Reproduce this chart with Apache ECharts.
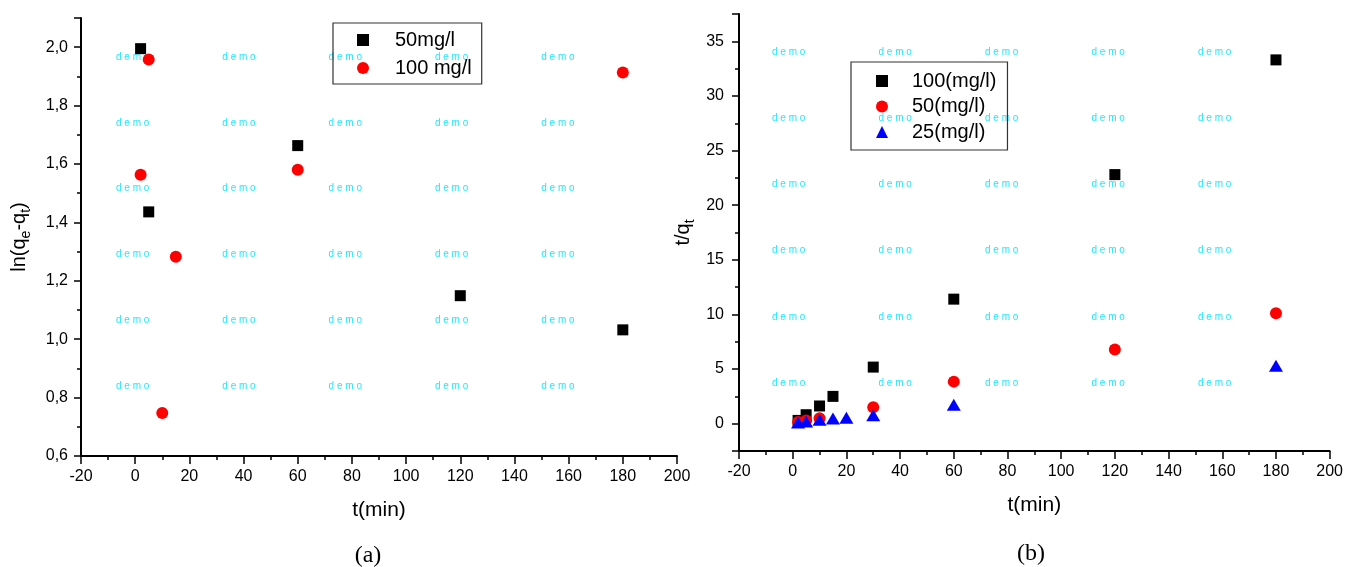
<!DOCTYPE html>
<html>
<head>
<meta charset="utf-8">
<script src="https://cdn.jsdelivr.net/npm/echarts@6/dist/echarts.min.js"></script>
<style>
  html, body { margin: 0; padding: 0; background: #fff; }
  #chart { width: 1346px; height: 567px; }
</style>
</head>
<body>
<div id="chart"></div>
<script>
// (a) pseudo first order: ln(qe - qt) vs t
const timeA50 = [2, 5, 60, 120, 180];
const lnA50 = [1.995, 1.436, 1.663, 1.149, 1.032];
const timeA100 = [2, 5, 10, 15, 60, 180];
const lnA100 = [1.563, 1.958, 0.747, 1.282, 1.58, 1.913];

// (b) pseudo second order: t/qt vs t
const timeB100 = [2, 5, 10, 15, 30, 60, 120, 180];
const tqB100 = [0.3, 0.82, 1.62, 2.5, 5.18, 11.4, 22.8, 33.3];
const timeB50 = [2, 5, 10, 30, 60, 120, 180];
const tqB50 = [0.15, 0.3, 0.5, 1.5, 3.85, 6.8, 10.1];
const timeB25 = [2, 5, 10, 15, 20, 30, 60, 180];
const tqB25 = [0.12, 0.2, 0.37, 0.48, 0.55, 0.78, 1.74, 5.3];

const namesA = ["50mg/l", "100 mg/l"];
const namesB = ["100(mg/l)", "50(mg/l)", "25(mg/l)"];
const panelLabels = ["(a)", "(b)"];

const FONT = "Liberation Sans, Arial, sans-serif";

function pairs(xs, ys) {
    return xs.map((x, i) => [x, ys[i]]);
}

function xAxisOf(gridIndex) {
    return {
        gridIndex: gridIndex,
        type: "value",
        min: -20, max: 200, interval: 20,
        name: "t(min)",
        nameLocation: "middle",
        nameGap: 44,
        nameTextStyle: { fontFamily: FONT, fontSize: 21, color: "#000" },
        axisLine: { onZero: false, lineStyle: { color: "#000", width: 2 } },
        axisTick: { inside: false, length: 8, lineStyle: { color: "#000", width: 1.5 } },
        minorTick: { show: true, splitNumber: 2, length: 4, lineStyle: { color: "#000", width: 1.5 } },
        axisLabel: { fontFamily: FONT, fontSize: 16, color: "#000", margin: 13 },
        splitLine: { show: false }
    };
}

// faint watermark grid
let graphics = [];
const wmA = { x0: 116, y0: 57, dx: 106.3, dy: 65.8 };
const wmB = { x0: 772, y0: 52, dx: 106.5, dy: 66.2 };
[wmA, wmB].forEach(w => {
    for (let r = 0; r < 6; r++) {
        for (let c = 0; c < 5; c++) {
            graphics.push({
                type: "text", x: w.x0 + c * w.dx, y: w.y0 + r * w.dy, z: 0, silent: true,
                style: { text: "d e m o", fill: "#22e8ff", font: "10px " + FONT, textVerticalAlign: "middle" }
            });
        }
    }
});
graphics.push({ type: "text", x: 368, y: 556, style: { text: panelLabels[0], fill: "#000", font: "24px Liberation Serif, Times New Roman, serif", textAlign: "center", textVerticalAlign: "middle" } });
graphics.push({ type: "text", x: 1031, y: 554, style: { text: panelLabels[1], fill: "#000", font: "24px Liberation Serif, Times New Roman, serif", textAlign: "center", textVerticalAlign: "middle" } });

const subRich = {
    a: { fontFamily: FONT, fontSize: 20, color: "#000", lineHeight: 28 },
    s: { fontFamily: FONT, fontSize: 14, color: "#000", lineHeight: 14, verticalAlign: "bottom" }
};

function yAxisBase(gridIndex) {
    return {
        gridIndex: gridIndex, type: "value",
        nameLocation: "middle", nameRotate: 90,
        nameTextStyle: { rich: subRich },
        axisLine: { show: true, onZero: false, lineStyle: { color: "#000", width: 2 } },
        axisTick: { show: true, inside: false, length: 7, lineStyle: { color: "#000", width: 1.5 } },
        minorTick: { show: true, splitNumber: 2, length: 4, lineStyle: { color: "#000", width: 1.5 } },
        splitLine: { show: false }
    };
}

let yA = yAxisBase(0);
yA.min = 0.6; yA.max = 2.1; yA.interval = 0.2;
yA.name = "{a|ln(q}{s|e}{a|-q}{s|t}{a|)}";
yA.nameGap = 48;
yA.axisLabel = {
    fontFamily: FONT, fontSize: 16, color: "#000", margin: 13,
    formatter: v => (Math.round(v * 10) % 2 === 0 ? v.toFixed(1).replace(".", ",") : "")
};

let yB = yAxisBase(1);
yB.min = -2.5; yB.max = 37.5; yB.splitNumber = 8;
yB.name = "{a|t/q}{s|t}";
yB.nameGap = 42;
yB.axisLabel = {
    fontFamily: FONT, fontSize: 16, color: "#000", margin: 15,
    formatter: v => (Math.abs(v % 5) < 1e-9 ? String(Math.round(v)) : "")
};

let option = {
    animation: false,
    backgroundColor: "#fff",
    grid: [
        { left: 81, right: 669, top: 18, bottom: 111 },
        { left: 739, right: 15, top: 14, bottom: 116 }
    ],
    xAxis: [xAxisOf(0), xAxisOf(1)],
    yAxis: [yA, yB],
    legend: [
        {
            data: namesA, orient: "vertical", left: 333, top: 23,
            itemWidth: 12, itemHeight: 12, itemGap: 6,
            padding: [6, 10, 5, 24],
            borderColor: "#333", borderWidth: 1.2,
            textStyle: { fontFamily: FONT, fontSize: 20, color: "#000", lineHeight: 22, padding: [0, 0, 0, 21] }
        },
        {
            data: namesB, orient: "vertical", left: 851, top: 62,
            itemWidth: 12, itemHeight: 12, itemGap: 3.5,
            padding: [8, 11, 7, 25],
            borderColor: "#333", borderWidth: 1.2,
            textStyle: { fontFamily: FONT, fontSize: 20, color: "#000", lineHeight: 22, padding: [0, 0, 0, 19] }
        }
    ],
    graphic: graphics,
    series: [
        { name: namesA[0], type: "scatter", xAxisIndex: 0, yAxisIndex: 0, symbol: "rect", symbolSize: 11,
          itemStyle: { color: "#000", opacity: 1 }, data: pairs(timeA50, lnA50) },
        { name: namesA[1], type: "scatter", xAxisIndex: 0, yAxisIndex: 0, symbol: "circle", symbolSize: 12,
          itemStyle: { color: "#ff0000", opacity: 1 }, data: pairs(timeA100, lnA100) },
        { name: namesB[0], type: "scatter", xAxisIndex: 1, yAxisIndex: 1, symbol: "rect", symbolSize: 11,
          itemStyle: { color: "#000", opacity: 1 }, data: pairs(timeB100, tqB100) },
        { name: namesB[1], type: "scatter", xAxisIndex: 1, yAxisIndex: 1, symbol: "circle", symbolSize: 12,
          itemStyle: { color: "#ff0000", opacity: 1 }, data: pairs(timeB50, tqB50) },
        { name: namesB[2], type: "scatter", xAxisIndex: 1, yAxisIndex: 1, symbol: "triangle", symbolSize: [14, 12],
          itemStyle: { color: "#0000ff", opacity: 1 }, data: pairs(timeB25, tqB25) }
    ]
};

let chart = echarts.init(document.getElementById("chart"), null, { renderer: "canvas" });
chart.setOption(option);
</script>
</body>
</html>
